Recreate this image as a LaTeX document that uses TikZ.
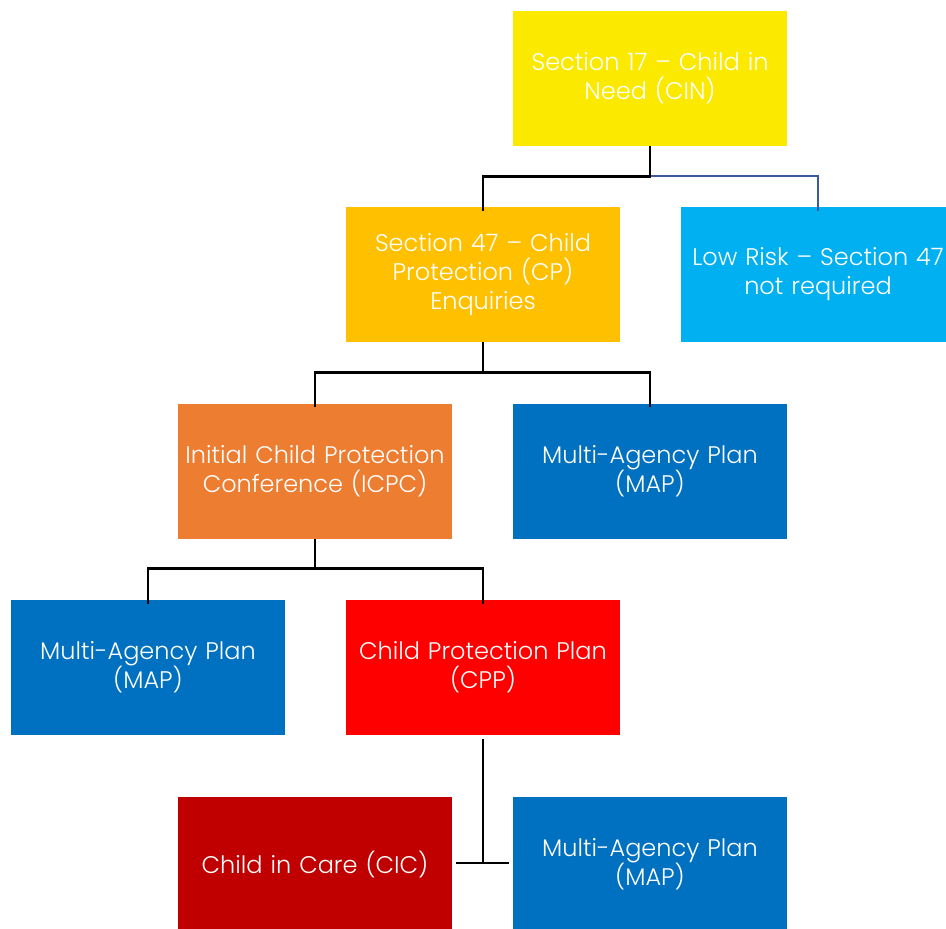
\documentclass[tikz,border=0pt]{standalone}
\usepackage{fontspec}
\setmainfont{Poppins}[UprightFont=* Light]
\usepackage{tikz}
\usetikzlibrary{positioning}

\definecolor{cinyellow}{HTML}{FCE900}
\definecolor{cpamber}{HTML}{FFC000}
\definecolor{lowcyan}{HTML}{00B0F0}
\definecolor{icpcorange}{HTML}{ED7D31}
\definecolor{mapblue}{HTML}{0070C0}
\definecolor{cppred}{HTML}{FF0000}
\definecolor{cicred}{HTML}{C00000}
\definecolor{linkblue}{HTML}{3A5BA0}

\tikzset{
  stage/.style={rectangle, minimum width=274pt, minimum height=135pt, text width=270pt,
    align=center, text=white, font=\fontsize{24}{29}\selectfont, inner sep=0pt},
  link/.style={line width=2.6pt, draw=black}
}

\begin{document}
\begin{tikzpicture}[x=1pt, y=-1pt]
\clip (0,0) rectangle (946,929);
\fill [white] (0,0) rectangle (946,929);
\node [stage, fill=cinyellow] (CIN) at (650, 78.5) {Section 17 – Child in\\Need (CIN)};
\node [stage, fill=cpamber] (CP) at (483, 274.5) {Section 47 – Child\\Protection (CP)\\Enquiries};
\node [stage, fill=lowcyan] (LOW) at (818, 274.5) {Low Risk – Section 47\\not required};
\node [stage, fill=icpcorange] (ICPC) at (315, 471) {Initial Child Protection\\Conference (ICPC)};
\node [stage, fill=mapblue] (MAPa) at (650, 471) {Multi-Agency Plan\\(MAP)};
\node [stage, fill=mapblue] (MAPb) at (148, 667.5) {Multi-Agency Plan\\(MAP)};
\node [stage, fill=cppred] (CPP) at (483, 667.5) {Child Protection Plan\\(CPP)};
\node [stage, fill=cicred] (CIC) at (315, 864.5) {Child in Care (CIC)};
\node [stage, fill=mapblue] (MAPc) at (650, 864.5) {Multi-Agency Plan\\(MAP)};
\draw [link, draw=linkblue, line width=2pt] (CIN.south) ++(0,30) -| ([yshift=-4pt]LOW.north);
\draw [link] (CIN.south) -- ++(0,30) -| ([yshift=-4pt]CP.north);
\draw [link] (CP.south) -- ++(0,30) -| ([yshift=-4pt]ICPC.north);
\draw [link] (CP.south) ++(0,30) -| ([yshift=-4pt]MAPa.north);
\draw [link] (ICPC.south) -- ++(0,30) -| ([yshift=-4pt]MAPb.north);
\draw [link] (ICPC.south) ++(0,30) -| ([yshift=-4pt]CPP.north);
\draw [link] ([yshift=-4pt]CPP.south) -- (CPP.south |- 0,863);
\draw [link] ([xshift=4pt]CIC.east |- 0,863) -- ([xshift=-4pt]MAPc.west |- 0,863);
\end{tikzpicture}
\end{document}
